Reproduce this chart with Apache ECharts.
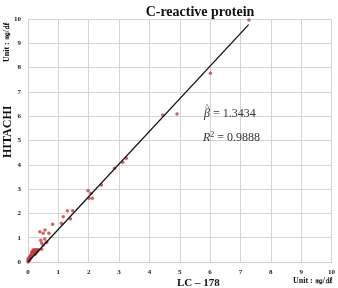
<!DOCTYPE html>
<html><head><meta charset="utf-8">
<script src="https://cdn.jsdelivr.net/npm/echarts@6/dist/echarts.min.js"></script>
<style>html,body{margin:0;padding:0;background:#fff}#c{width:338px;height:288px}</style>
</head><body><div id="c"></div>
<script>
const lcValues = [7.28,6.01,4.44,4.91,3.24,3.12,2.85,2.42,1.98,2.07,2.01,2.12,1.47,1.30,1.16,1.40,1.10,0.81,0.39,0.56,0.50,0.69,0.42,0.45,0.60,0.50,0.35,0.45,0.62,0.55,
  0.30,0.28,0.25,0.22,0.20,0.18,0.15,0.12,0.10,0.08,0.06,0.05,0.04,0.03,0.02,0.01,0.00,0.00,0.02,0.05,0.08,0.12,0.15,0.18,0.22,0.25,0.28,0.10,0.14,0.20,0.24,0.06,0.03,0.32,0.26];
const hitachiValues = [9.96,7.77,6.05,6.09,4.27,4.10,3.86,3.17,2.93,2.83,2.62,2.62,2.11,2.11,1.86,1.77,1.59,1.55,1.25,1.32,1.18,1.18,0.90,0.78,0.80,0.70,0.50,0.52,0.82,0.95,
  0.48,0.50,0.45,0.48,0.42,0.38,0.35,0.30,0.25,0.20,0.15,0.12,0.10,0.08,0.05,0.03,0.00,0.10,0.15,0.20,0.28,0.40,0.45,0.50,0.38,0.42,0.40,0.18,0.30,0.35,0.32,0.08,0.12,0.45,0.50];
const slope = 1.3434;
const lineX = [0, 7.27];
const xTicks = [0,1,2,3,4,5,6,7,8,9,10];
const yTicks = [0,1,2,3,4,5,6,7,8,9,10];
const titleText = 'C-reactive protein';
const xName = 'LC – 178';
const yName = 'HITACHI';
const unitText = 'Unit : ㎎/㎗';

const pts = lcValues.map((x,i)=>[x, hitachiValues[i]]);
const linePts = lineX.map(x=>[x, x*slope]);
const serif = '"Liberation Serif","DejaVu Serif",serif';
const chart = echarts.init(document.getElementById('c'));
chart.setOption({
  animation:false,
  title:{text:titleText,left:195,top:0,textAlign:'center',textStyle:{fontFamily:serif,fontWeight:'bold',fontSize:14,color:'#111'}},
  grid:{left:28,right:5,top:19,bottom:26},
  xAxis:{type:'value',min:0,max:10,interval:1,
    axisLine:{show:true,lineStyle:{color:'#d0d0d0'}},axisTick:{show:false},
    splitLine:{show:true,lineStyle:{color:'#d6d6d6'}},
    axisLabel:{fontFamily:serif,fontWeight:'bold',fontSize:7,color:'#222',margin:7}},
  yAxis:{type:'value',min:0,max:10,interval:1,
    axisLine:{show:true,lineStyle:{color:'#d0d0d0'}},axisTick:{show:false},
    splitLine:{show:true,lineStyle:{color:'#d6d6d6'}},
    axisLabel:{fontFamily:serif,fontWeight:'bold',fontSize:7,color:'#222',margin:7}},
  series:[
    {type:'scatter',data:pts,symbolSize:3.5,itemStyle:{color:'#c43c3c'},z:3},
    {type:'line',data:linePts,symbol:'none',lineStyle:{color:'#111',width:1.3},z:4}
  ],
  graphic:{elements:[
    {type:'text',z:100,left:177,top:278,style:{text:xName,fontFamily:serif,fontWeight:'bold',fontSize:11,fill:'#111'}},
    {type:'text',z:100,right:5,top:277,style:{text:unitText,fontFamily:serif,fontWeight:'bold',fontSize:8,fill:'#111'}},
    {type:'text',z:100,rotation:Math.PI/2,x:2,y:158,style:{text:yName,fontFamily:serif,fontWeight:'bold',fontSize:12,fill:'#111'}},
    {type:'text',z:100,rotation:Math.PI/2,x:3,y:62,style:{text:unitText,fontFamily:serif,fontWeight:'bold',fontSize:8,fill:'#111'}},
    {type:'text',z:100,left:204,top:108,style:{text:'{b|β} = 1.3434',fontFamily:serif,fontSize:12,fill:'#333',rich:{b:{fontStyle:'italic',fontFamily:serif,fontSize:12}}}},
    {type:'text',z:100,left:205,top:103,style:{text:'^',fontFamily:serif,fontSize:9,fill:'#333'}},
    {type:'text',z:100,left:203,top:131,style:{text:'{r|R}{s|2} = 0.9888',fontFamily:serif,fontSize:12,fill:'#333',rich:{r:{fontStyle:'italic',fontFamily:serif,fontSize:12},s:{fontSize:8,fontFamily:serif,verticalAlign:'top',padding:[0,0,6,0]}}}}
  ]}
});
</script></body></html>
